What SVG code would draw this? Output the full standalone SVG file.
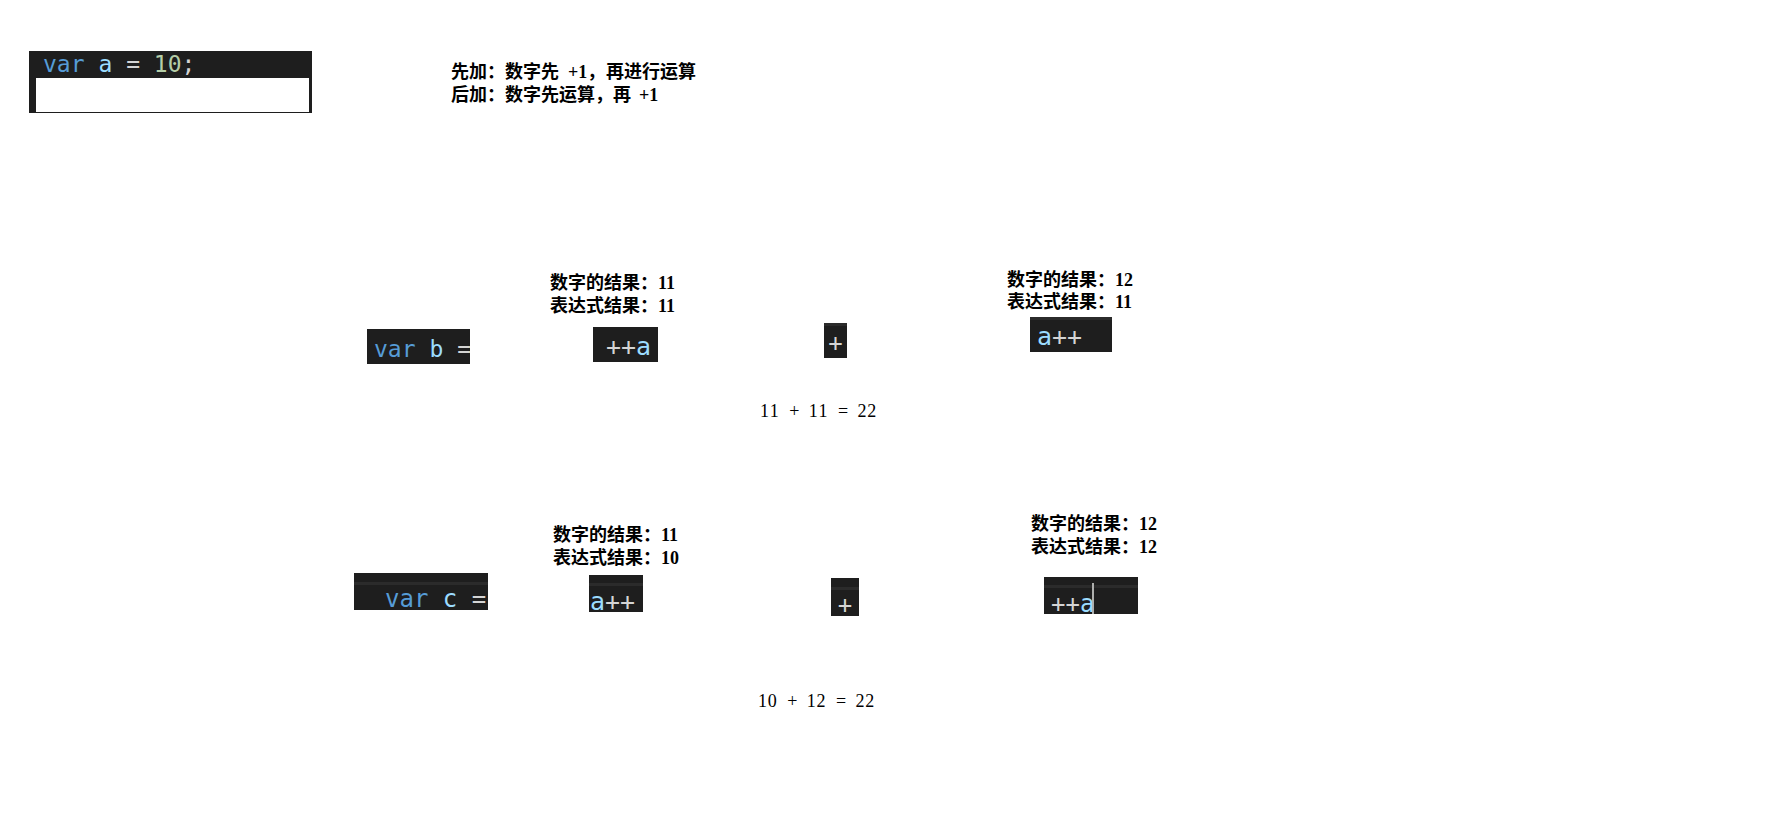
<svg xmlns="http://www.w3.org/2000/svg" width="1776" height="830" viewBox="0 0 1776 830">
<style>
.bg{fill:#1e1e1e}
.strip{fill:#2b2b2b}
.code{font-family:"DejaVu Sans Mono","Liberation Mono",monospace}
.kw{fill:#569cd6}
.id{fill:#9cdcfe}
.op{fill:#d4d4d4}
.num{fill:#b5cea8}
.lbl{font-family:"Liberation Serif","Noto Sans CJK SC",serif;font-size:18px;font-weight:bold;fill:#000}
.eq{font-family:"Liberation Serif","Noto Sans CJK SC",serif;font-size:18px;fill:#000}
</style>
<defs>
<clipPath id="cb"><rect x="367" y="329" width="103" height="35"/></clipPath>
<clipPath id="cc"><rect x="354" y="573" width="134" height="37"/></clipPath>
</defs>
<rect width="1776" height="830" fill="#fff"/>

<g id="var-a">
<rect class="bg" x="29" y="51" width="283" height="62"/>
<rect x="36" y="78" width="273" height="34" fill="#fff"/>
<text class="code" x="43" y="72" font-size="23"><tspan class="kw">var</tspan> <tspan class="id">a</tspan> <tspan class="op">=</tspan> <tspan class="num">10</tspan><tspan class="op">;</tspan></text>
</g>

<g id="rules">
<text class="lbl" y="78"><tspan x="451">先加：数字先</tspan><tspan x="568">+1，</tspan><tspan x="606">再进行运算</tspan></text>
<text class="lbl" y="101"><tspan x="451">后加：数字先运算，再</tspan><tspan x="639">+1</tspan></text>
</g>

<g id="row1-var-b">
<rect class="bg" x="367" y="329" width="103" height="35"/>
<g clip-path="url(#cb)">
<text class="code" x="374" y="357" font-size="23"><tspan class="kw">var</tspan> <tspan class="id">b</tspan> <tspan class="op">=</tspan></text>
</g>
</g>

<g id="row1-pre">
<text class="lbl" x="550" y="289">数字的结果：11</text>
<text class="lbl" x="550" y="312">表达式结果：11</text>
<rect class="bg" x="593" y="327" width="65" height="35"/>
<text class="code" x="606" y="355" font-size="25"><tspan class="op">++</tspan><tspan class="id">a</tspan></text>
</g>

<g id="row1-plus">
<rect class="bg" x="824" y="323" width="23" height="35"/>
<rect class="strip" x="824" y="323" width="23" height="3"/>
<text class="code op" x="835.5" y="351" font-size="24" text-anchor="middle">+</text>
</g>

<g id="row1-post">
<text class="lbl" x="1007" y="286">数字的结果：12</text>
<text class="lbl" x="1007" y="308">表达式结果：11</text>
<rect class="bg" x="1030" y="317" width="82" height="35"/>
<rect class="strip" x="1030" y="317" width="82" height="3"/>
<text class="code" x="1037" y="345" font-size="25"><tspan class="id">a</tspan><tspan class="op">++</tspan></text>
</g>

<g id="row1-sum">
<text class="eq" x="760 769.75 779.5 789.25 799 808.75 818.5 828.25 838 847.75 857.5 867.25" y="417">11 + 11 = 22</text>
</g>

<g id="row2-var-c">
<rect class="bg" x="354" y="573" width="134" height="37"/>
<rect class="strip" x="354" y="582" width="134" height="3"/>
<g clip-path="url(#cc)">
<text class="code" x="385" y="607" font-size="24"><tspan class="kw">var</tspan> <tspan class="id">c</tspan> <tspan class="op">=</tspan></text>
</g>
</g>

<g id="row2-post">
<text class="lbl" x="553" y="541">数字的结果：11</text>
<text class="lbl" x="553" y="564">表达式结果：10</text>
<rect class="bg" x="589" y="575" width="54" height="37"/>
<rect class="strip" x="589" y="583" width="54" height="3"/>
<text class="code" x="590" y="610" font-size="25"><tspan class="id">a</tspan><tspan class="op">++</tspan></text>
</g>

<g id="row2-plus">
<rect class="bg" x="831" y="578" width="28" height="38"/>
<rect class="strip" x="831" y="587" width="28" height="3"/>
<text class="code op" x="845" y="613" font-size="24" text-anchor="middle">+</text>
</g>

<g id="row2-pre">
<text class="lbl" x="1031" y="530">数字的结果：12</text>
<text class="lbl" x="1031" y="553">表达式结果：12</text>
<rect class="bg" x="1044" y="577" width="94" height="37"/>
<rect class="strip" x="1044" y="585" width="94" height="3"/>
<text class="code" x="1051" y="612" font-size="24"><tspan class="op">++</tspan><tspan class="id">a</tspan></text>
<rect x="1092" y="583" width="2" height="31" fill="#aeafad"/>
</g>

<g id="row2-sum">
<text class="eq" x="758 767.75 777.5 787.25 797 806.75 816.5 826.25 836 845.75 855.5 865.25" y="707">10 + 12 = 22</text>
</g>
</svg>
